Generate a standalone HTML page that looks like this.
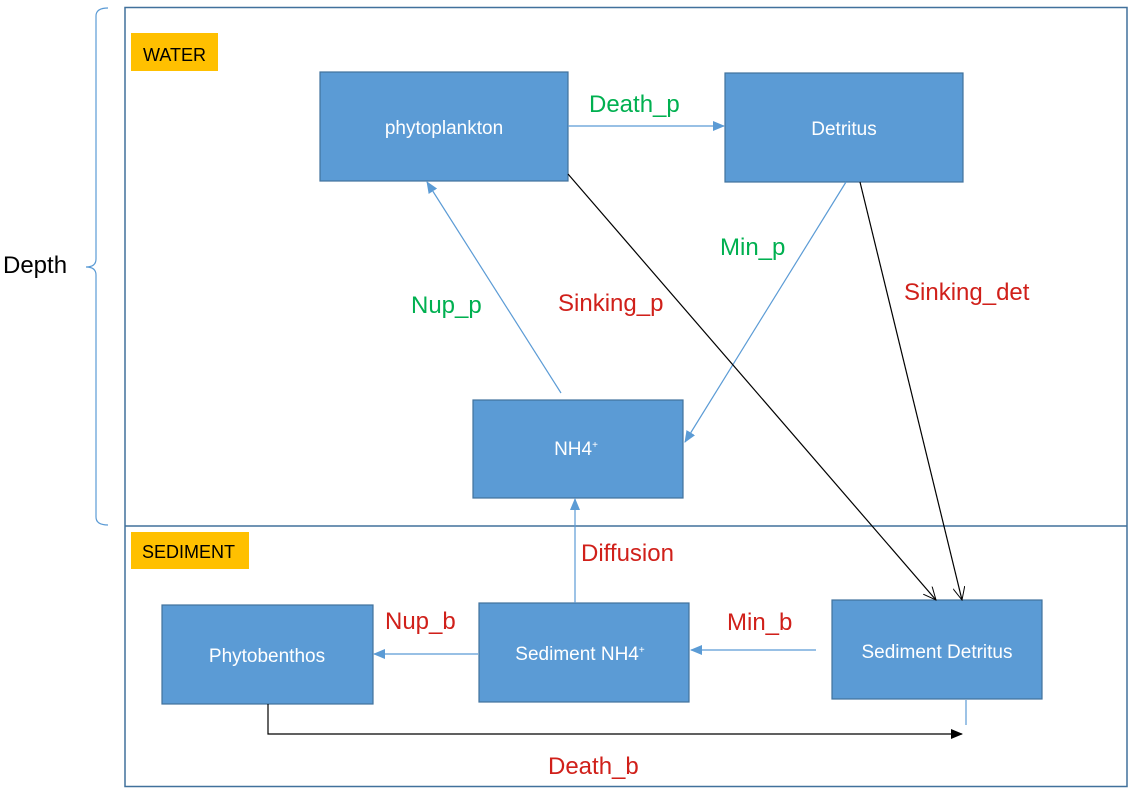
<!DOCTYPE html>
<html><head><meta charset="utf-8"><style>
body{margin:0;background:#fff}
svg{display:block;font-family:"Liberation Sans",sans-serif}
</style></head><body>
<svg width="1131" height="791" viewBox="0 0 1131 791">
<defs>
<marker id="bl" markerWidth="12" markerHeight="10" refX="11" refY="5" orient="auto" markerUnits="userSpaceOnUse"><path d="M0,0 L12,5 L0,10 z" fill="#5b9bd5"/></marker>
<marker id="bk" markerWidth="12" markerHeight="10" refX="11" refY="5" orient="auto" markerUnits="userSpaceOnUse"><path d="M0,0 L12,5 L0,10 z" fill="#000"/></marker>
<marker id="ok" markerWidth="14" markerHeight="12" refX="13" refY="6" orient="auto" markerUnits="userSpaceOnUse"><path d="M0,0 L13,6 L0,12" fill="none" stroke="#000" stroke-width="1"/></marker>
</defs>
<rect x="125" y="7.5" width="1002" height="779" fill="none" stroke="#41719c" stroke-width="1.5"/>
<line x1="125" y1="526" x2="1127" y2="526" stroke="#41719c" stroke-width="1.5"/>
<path d="M108,8 Q96,8 96,16 L96,259 Q96,267 86,267 Q96,267 96,275 L96,517 Q96,525 108,525" fill="none" stroke="#5b9bd5" stroke-width="1.2"/>
<text x="3" y="273" font-size="24">Depth</text>
<rect x="131" y="33" width="87" height="38" fill="#ffc000"/>
<text x="143" y="61" font-size="18">WATER</text>
<rect x="131" y="532" width="118" height="37" fill="#ffc000"/>
<text x="142" y="558" font-size="18">SEDIMENT</text>
<g fill="#5b9bd5" stroke="#41719c" stroke-width="1.2">
<rect x="320" y="72" width="248" height="109"/>
<rect x="725" y="73" width="238" height="109"/>
<rect x="473" y="400" width="210" height="98"/>
<rect x="162" y="605" width="211" height="99"/>
<rect x="479" y="603" width="210" height="99"/>
<rect x="832" y="600" width="210" height="99"/>
</g>
<g fill="#fff" font-size="19" text-anchor="middle">
<text x="444" y="134">phytoplankton</text>
<text x="844" y="135">Detritus</text>
<text x="576" y="455">NH4<tspan font-size="10" dy="-7">+</tspan></text>
<text x="267" y="662">Phytobenthos</text>
<text x="580" y="660">Sediment NH4<tspan font-size="10" dy="-7">+</tspan></text>
<text x="937" y="658">Sediment Detritus</text>
</g>
<g stroke="#5b9bd5" stroke-width="1.2" fill="none">
<line x1="568" y1="126" x2="724" y2="126" marker-end="url(#bl)"/>
<line x1="561" y1="393" x2="427" y2="182" marker-end="url(#bl)"/>
<line x1="846" y1="182" x2="685" y2="442" marker-end="url(#bl)"/>
<line x1="575" y1="603" x2="575" y2="499" marker-end="url(#bl)"/>
<line x1="816" y1="650" x2="691" y2="650" marker-end="url(#bl)"/>
<line x1="478" y1="654" x2="374" y2="654" marker-end="url(#bl)"/>
<line x1="966" y1="700" x2="966" y2="725"/>
</g>
<g stroke="#000" stroke-width="1.2" fill="none">
<line x1="568" y1="174" x2="936" y2="600" marker-end="url(#ok)"/>
<line x1="860" y1="182" x2="962" y2="600" marker-end="url(#ok)"/>
<path d="M268,704 L268,734 L962,734" marker-end="url(#bk)"/>
</g>
<g font-size="24">
<text x="589" y="112" fill="#00b050">Death_p</text>
<text x="720" y="255" fill="#00b050">Min_p</text>
<text x="411" y="313" fill="#00b050">Nup_p</text>
<text x="558" y="311" fill="#d0201a">Sinking_p</text>
<text x="904" y="300" fill="#d0201a">Sinking_det</text>
<text x="581" y="561" fill="#d0201a">Diffusion</text>
<text x="385" y="629" fill="#d0201a">Nup_b</text>
<text x="727" y="630" fill="#d0201a">Min_b</text>
<text x="548" y="774" fill="#d0201a">Death_b</text>
</g>
</svg>
</body></html>
